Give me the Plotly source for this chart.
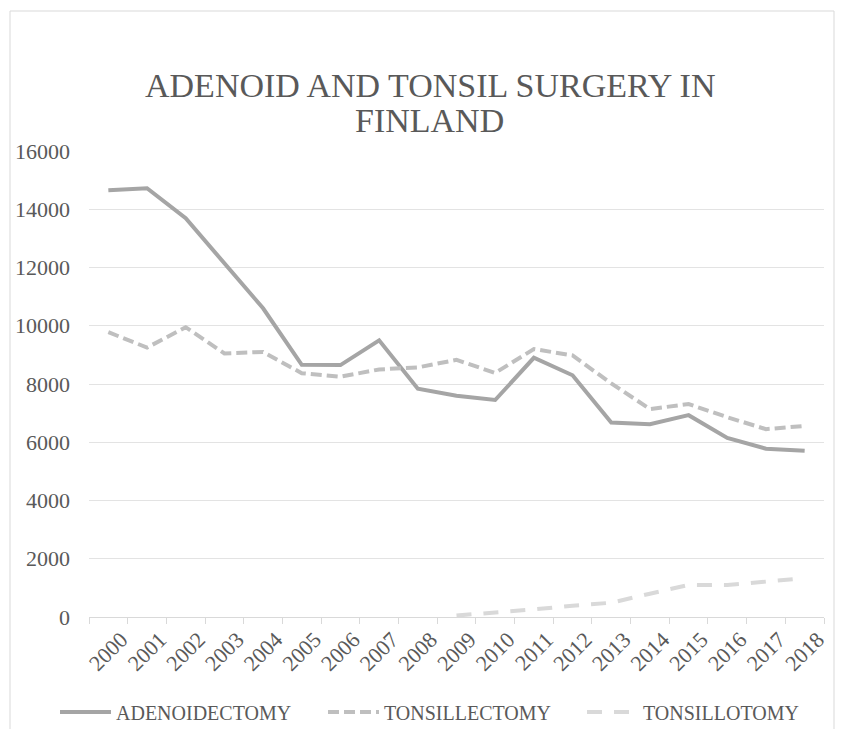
import plotly.graph_objects as go

years = [str(y) for y in range(2000, 2019)]
adenoidectomy = [14650, 14720, 13690, 12120, 10600, 8660, 8650, 9500, 7840, 7600,
                 7450, 8900, 8300, 6680, 6620, 6930, 6150, 5780, 5710]
tonsillectomy = [9780, 9250, 9950, 9050, 9100, 8370, 8250, 8500, 8570, 8830,
                 8380, 9200, 8980, 8020, 7140, 7310, 6860, 6450, 6560]
tonsillotomy = [None, None, None, None, None, None, None, None, None, 50,
                150, 260, 390, 490, 800, 1100, 1100, 1210, 1330]
title_lines = ["ADENOID AND TONSIL SURGERY IN", "FINLAND"]

FONT = "Liberation Serif"
TXT = "#595959"

# page body adds an 8px margin on every side; keep the figure small enough
# that no scrollbar appears, and lay it out in its own pixel space
W, H = 827, 721
L, R, T, B = 81, 11, 143, 112
PH = H - T - B  # 466
PW = W - L - R  # 735

fig = go.Figure()
fig.add_trace(go.Scatter(x=years, y=adenoidectomy, name="ADENOIDECTOMY", mode="lines",
                         line=dict(color="#a5a5a5", width=4), legend="legend"))
fig.add_trace(go.Scatter(x=years, y=tonsillectomy, name="TONSILLECTOMY", mode="lines",
                         line=dict(color="#bfbfbf", width=4, dash="11px,5px"),
                         legend="legend2"))
fig.add_trace(go.Scatter(x=years, y=tonsillotomy, name="TONSILLOTOMY", mode="lines",
                         line=dict(color="#d9d9d9", width=4, dash="15px,12px"),
                         connectgaps=False, legend="legend3"))


def leg(x_px):
    return dict(orientation="h", xref="container", x=x_px / W, xanchor="left",
                yref="container", y=1 - 704 / H, yanchor="middle",
                font=dict(family=FONT, size=20, color=TXT), itemwidth=51,
                bgcolor="rgba(0,0,0,0)")


fig.update_layout(
    width=W, height=H,
    margin=dict(l=L, r=R, t=T, b=B, autoexpand=False),
    paper_bgcolor="white", plot_bgcolor="white",
    font=dict(family=FONT, color=TXT, size=21),
    showlegend=True,
    legend=leg(47), legend2=leg(315), legend3=leg(574),
    xaxis=dict(type="category", range=[-0.5, len(years) - 0.5], tickangle=-45,
               showgrid=False, automargin=False,
               showline=True, linecolor="#d9d9d9", linewidth=1,
               ticks="outside", tickson="boundaries", ticklen=6, tickcolor="#d9d9d9",
               ticklabelshift=13, ticklabelstandoff=0,
               tickfont=dict(family=FONT, size=22, color=TXT)),
    yaxis=dict(range=[0, 16000], dtick=2000, tickformat="d", automargin=False,
               showgrid=True, gridcolor="#e3e3e3", gridwidth=1,
               zeroline=False, showline=False, ticks="", ticklabelstandoff=18,
               tickfont=dict(family=FONT, size=22, color=TXT)),
    annotations=[
        dict(text=title_lines[0], xref="paper", yref="paper", x=(422 - L) / PW,
             y=(609 - 77) / PH, xanchor="center", yanchor="middle", showarrow=False,
             font=dict(family=FONT, size=34, color=TXT)),
        dict(text=title_lines[1], xref="paper", yref="paper", x=(421 - L) / PW,
             y=(609 - 112) / PH, xanchor="center", yanchor="middle", showarrow=False,
             font=dict(family=FONT, size=34, color=TXT)),
    ],
    shapes=[dict(type="rect", xref="paper", yref="paper",
                 x0=(2 - L) / PW, x1=(826 - L) / PW, y0=(609 - 730) / PH,
                 y1=(609 - 3) / PH,
                 line=dict(color="#d9d9d9", width=1), fillcolor="rgba(0,0,0,0)",
                 layer="below")],
)

fig.write_html("out.html")
